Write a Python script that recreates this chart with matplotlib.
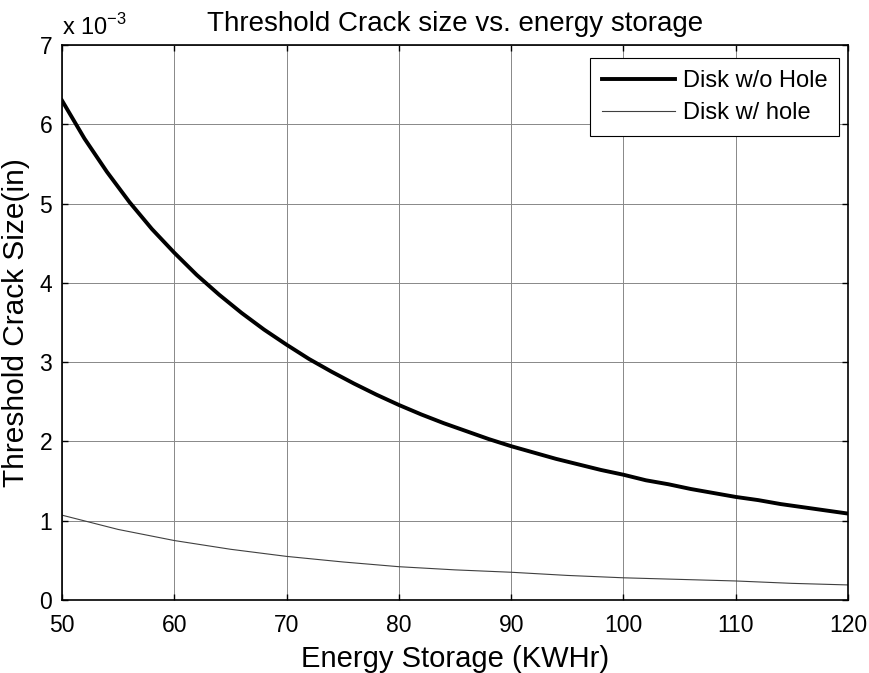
import numpy as np
import matplotlib.pyplot as plt
from matplotlib.ticker import FuncFormatter, MultipleLocator

plt.rcParams['font.family'] = ['Liberation Sans', 'DejaVu Sans']
plt.rcParams['mathtext.fontset'] = 'custom'
plt.rcParams['mathtext.rm'] = 'Liberation Sans'

# energia almacenada (KWHr) y tamaño umbral de grieta (in)
energia = [50, 52, 54, 56, 58, 60, 62, 64, 66, 68, 70, 72, 74, 76, 78, 80, 82, 84,
           86, 88, 90, 92, 94, 96, 98, 100, 102, 104, 106, 108, 110, 112, 114, 116, 118, 120]
sin_agujero = [6.30, 5.82, 5.40, 5.02, 4.68, 4.38, 4.10, 3.85, 3.62, 3.41, 3.22, 3.04,
               2.88, 2.73, 2.59, 2.46, 2.34, 2.23, 2.13, 2.03, 1.94, 1.86, 1.78, 1.71,
               1.64, 1.58, 1.51, 1.46, 1.40, 1.35, 1.30, 1.26, 1.21, 1.17, 1.13, 1.09]
sin_agujero = [v * 1e-3 for v in sin_agujero]

energia_h = [50, 55, 60, 65, 70, 75, 80, 85, 90, 95, 100, 105, 110, 115, 120]
con_agujero = [1.07, 0.89, 0.75, 0.64, 0.55, 0.48, 0.42, 0.38, 0.35, 0.31, 0.28,
               0.26, 0.24, 0.21, 0.19]
con_agujero = [v * 1e-3 for v in con_agujero]

fig = plt.figure(figsize=(8.7, 6.73), dpi=100)
ax = fig.add_axes([62/870, 1 - 600/673, (848-62)/870, (600-45)/673])

ax.plot(energia, sin_agujero, 'k-', linewidth=2.8, label='Disk w/o Hole')
ax.plot(energia_h, con_agujero, '-', color='#404040', linewidth=0.8, label='Disk w/ hole')

ax.set_xlim(50, 120)
ax.set_ylim(0, 7e-3)
ax.xaxis.set_major_locator(MultipleLocator(10))
ax.yaxis.set_major_locator(MultipleLocator(1e-3))
ax.yaxis.set_major_formatter(FuncFormatter(lambda v, p: f'{v*1e3:.0f}'))

ax.grid(True, color='#888888', linewidth=0.7)
ax.tick_params(direction='in', top=True, right=True, labelsize=16.5, length=4, width=1)
ax.tick_params(axis='x', pad=10)
ax.tick_params(axis='y', pad=7)
for s in ax.spines.values():
    s.set_linewidth(1.2)

ax.set_xlabel('Energy Storage (KWHr)', fontsize=21, labelpad=6)
ax.set_ylabel('Threshold Crack Size(in)', fontsize=21.5, labelpad=7)
ax.set_title('Threshold Crack size vs. energy storage', fontsize=20, pad=10)
ax.text(0.0, 1.01, r'x 10$^{-3}$', transform=ax.transAxes, fontsize=17,
        ha='left', va='bottom')

leg = ax.legend(loc='upper right', bbox_to_anchor=(0.9885, 0.9766), fontsize=17,
                fancybox=False, framealpha=1, edgecolor='black', handlelength=3.1,
                handletextpad=0.3, borderaxespad=0, borderpad=0.5, labelspacing=0.45)
leg.get_frame().set_linewidth(0.8)

fig.savefig('out.png', dpi=100)
